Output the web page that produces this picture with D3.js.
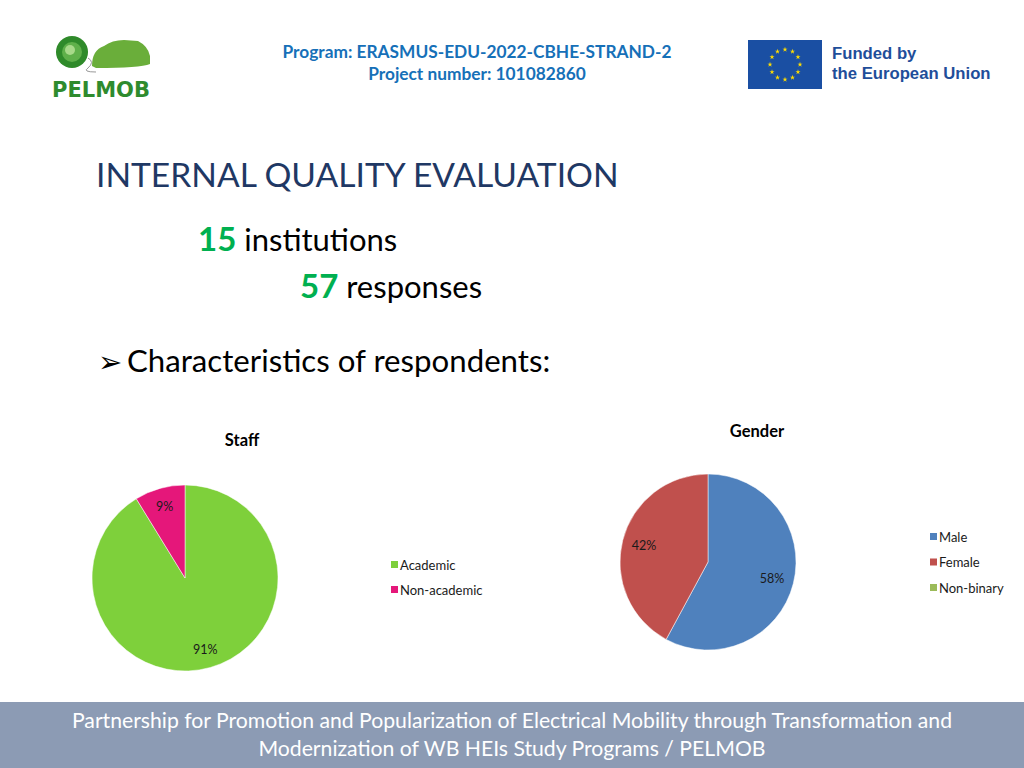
<!DOCTYPE html>
<html>
<head>
<meta charset="utf-8">
<script src="https://cdn.jsdelivr.net/npm/d3@7"></script>
<style>
  body { margin: 0; background: #fff; }
  svg { display: block; font-family: Lato, "Open Sans", sans-serif; }
</style>
</head>
<body>
<div id="slide"></div>
<script>
// data
const staffCategories = ["Academic", "Non-academic"];
const staffValues = [52, 5];
const staffColors = ["#7ED03B", "#E5177A"];

const genderCategories = ["Male", "Female", "Non-binary"];
const genderValues = [33, 24, 0];
const genderColors = ["#4F81BD", "#C0504D", "#9BBB59"];

const institutions = 15;
const responses = 57;

const width = 1024, height = 768;

const svg = d3.select("#slide")
  .append("svg")
    .attr("width", width)
    .attr("height", height);

// ---- header ----
svg.append("text")
  .attr("x", 477).attr("y", 58)
  .attr("text-anchor", "middle")
  .attr("font-size", 17.3).attr("font-weight", "bold")
  .attr("fill", "#1670B8")
  .text("Program: ERASMUS-EDU-2022-CBHE-STRAND-2");
svg.append("text")
  .attr("x", 477).attr("y", 80)
  .attr("text-anchor", "middle")
  .attr("font-size", 17.3).attr("font-weight", "bold")
  .attr("fill", "#1670B8")
  .text("Project number: 101082860");

// logo (rough sketch)
const logo = svg.append("g");
logo.append("circle").attr("cx", 72).attr("cy", 52).attr("r", 16).attr("fill", "#2f8a2a");
logo.append("circle").attr("cx", 72).attr("cy", 52).attr("r", 10).attr("fill", "#5fb04a");
logo.append("circle").attr("cx", 70).attr("cy", 50).attr("r", 5).attr("fill", "#a8d98a");
logo.append("path")
  .attr("d", "M92,66 Q92,50 104,46 Q112,40 124,40 L138,41 Q148,46 150,56 L150,64 Q140,68 96,68 Z")
  .attr("fill", "#6aae3a");
logo.append("path")
  .attr("d", "M88,58 Q95,62 88,68 Q82,72 96,72")
  .attr("fill", "none").attr("stroke", "#999").attr("stroke-width", 1);
logo.append("text")
  .attr("x", 101).attr("y", 97)
  .attr("text-anchor", "middle")
  .attr("font-size", 21).attr("font-weight", 900)
  .attr("font-family", "'DejaVu Sans', sans-serif")
  .attr("fill", "#2E8B2E")
  .text("PELMOB");

// EU flag
const flag = svg.append("g");
flag.append("rect").attr("x", 748).attr("y", 40).attr("width", 74).attr("height", 49).attr("fill", "#1A4FA3");
const star = d3.symbol().type(d3.symbolStar).size(8);
d3.range(12).forEach(i => {
  const a = i * Math.PI / 6;
  flag.append("path")
    .attr("d", star)
    .attr("transform", `translate(${785 + 15 * Math.sin(a)},${64.5 - 15 * Math.cos(a)})`)
    .attr("fill", "#FFDD00");
});
svg.append("text")
  .attr("x", 832).attr("y", 59)
  .attr("font-size", 16.7).attr("font-weight", "bold")
  .attr("font-family", "'Liberation Sans', Arial, sans-serif")
  .attr("fill", "#1F4E9A")
  .text("Funded by");
svg.append("text")
  .attr("x", 832).attr("y", 79)
  .attr("font-size", 16.7).attr("font-weight", "bold")
  .attr("font-family", "'Liberation Sans', Arial, sans-serif")
  .attr("fill", "#1F4E9A")
  .text("the European Union");

// ---- title block ----
svg.append("text")
  .attr("x", 96).attr("y", 187)
  .attr("font-size", 33.6)
  .attr("fill", "#1F3864")
  .text("INTERNAL QUALITY EVALUATION");

const l1 = svg.append("text").attr("x", 198).attr("y", 251).attr("font-size", 31).attr("fill", "#000");
l1.append("tspan").attr("font-size", 33).attr("font-weight", "bold").attr("fill", "#00B050").text(institutions);
l1.append("tspan").text(" institutions");

const l2 = svg.append("text").attr("x", 300).attr("y", 298).attr("font-size", 31).attr("fill", "#000");
l2.append("tspan").attr("font-size", 33).attr("font-weight", "bold").attr("fill", "#00B050").text(responses);
l2.append("tspan").text(" responses");

svg.append("text")
  .attr("x", 98).attr("y", 372)
  .attr("font-size", 29)
  .attr("font-family", "'DejaVu Sans', sans-serif")
  .attr("fill", "#000")
  .text("\u27A2");
svg.append("text")
  .attr("x", 127).attr("y", 372)
  .attr("font-size", 31.2)
  .attr("fill", "#000")
  .text("Characteristics of respondents:");

// ---- pies ----
function drawPie(cfg) {
  const pie = d3.pie().sort(null).value(d => d)(cfg.values);
  const arc = d3.arc().innerRadius(0).outerRadius(cfg.r);
  const g = svg.append("g").attr("transform", `translate(${cfg.cx},${cfg.cy})`);
  const total = d3.sum(cfg.values);

  g.selectAll("path.slice")
    .data(pie.filter(d => d.value > 0))
    .join("path")
      .attr("class", "slice")
      .attr("d", arc)
      .attr("fill", d => cfg.colors[d.index])
      .attr("stroke", "#fff")
      .attr("stroke-width", 0.5);

  const labelArc = d3.arc().innerRadius(cfg.r * cfg.labelPos).outerRadius(cfg.r * cfg.labelPos);
  g.selectAll("text.pct")
    .data(pie.filter(d => d.value > 0))
    .join("text")
      .attr("class", "pct")
      .attr("transform", d => `translate(${labelArc.centroid(d)})`)
      .attr("text-anchor", "middle")
      .attr("dy", "0.35em")
      .attr("font-size", 12.5)
      .attr("fill", "#1a1a1a")
      .text(d => Math.round(d.value / total * 100) + "%");

  svg.append("text")
    .attr("x", cfg.titleX).attr("y", cfg.titleY)
    .attr("text-anchor", "middle")
    .attr("font-size", 16.5).attr("font-weight", "bold")
    .attr("fill", "#000")
    .text(cfg.title);

  const leg = svg.append("g");
  const items = leg.selectAll("g")
    .data(cfg.categories)
    .join("g")
      .attr("transform", (d, i) => `translate(${cfg.legX},${cfg.legY + i * cfg.legStep})`);
  items.append("rect")
    .attr("x", 0).attr("y", -4).attr("width", 7).attr("height", 7)
    .attr("fill", (d, i) => cfg.colors[i]);
  items.append("text")
    .attr("x", 9).attr("y", 0)
    .attr("dy", "0.35em")
    .attr("font-size", 13)
    .attr("fill", "#1a1a1a")
    .text(d => d);
}

drawPie({
  title: "Staff", titleX: 242, titleY: 446,
  categories: staffCategories, values: staffValues, colors: staffColors,
  cx: 185, cy: 578, r: 93, labelPos: 0.8,
  legX: 391, legY: 565, legStep: 25
});

drawPie({
  title: "Gender", titleX: 757, titleY: 437,
  categories: genderCategories, values: genderValues, colors: genderColors,
  cx: 708, cy: 562, r: 88, labelPos: 0.75,
  legX: 930, legY: 537, legStep: 25.5
});

// ---- footer ----
svg.append("rect")
  .attr("x", 0).attr("y", 702).attr("width", width).attr("height", 66)
  .attr("fill", "#8C9BB4");
svg.append("text")
  .attr("x", 512).attr("y", 728)
  .attr("text-anchor", "middle")
  .attr("font-size", 21.2).attr("fill", "#fff")
  .text("Partnership for Promotion and Popularization of Electrical Mobility through Transformation and");
svg.append("text")
  .attr("x", 512).attr("y", 756)
  .attr("text-anchor", "middle")
  .attr("font-size", 21.2).attr("fill", "#fff")
  .text("Modernization of WB HEIs Study Programs / PELMOB");
</script>
</body>
</html>
